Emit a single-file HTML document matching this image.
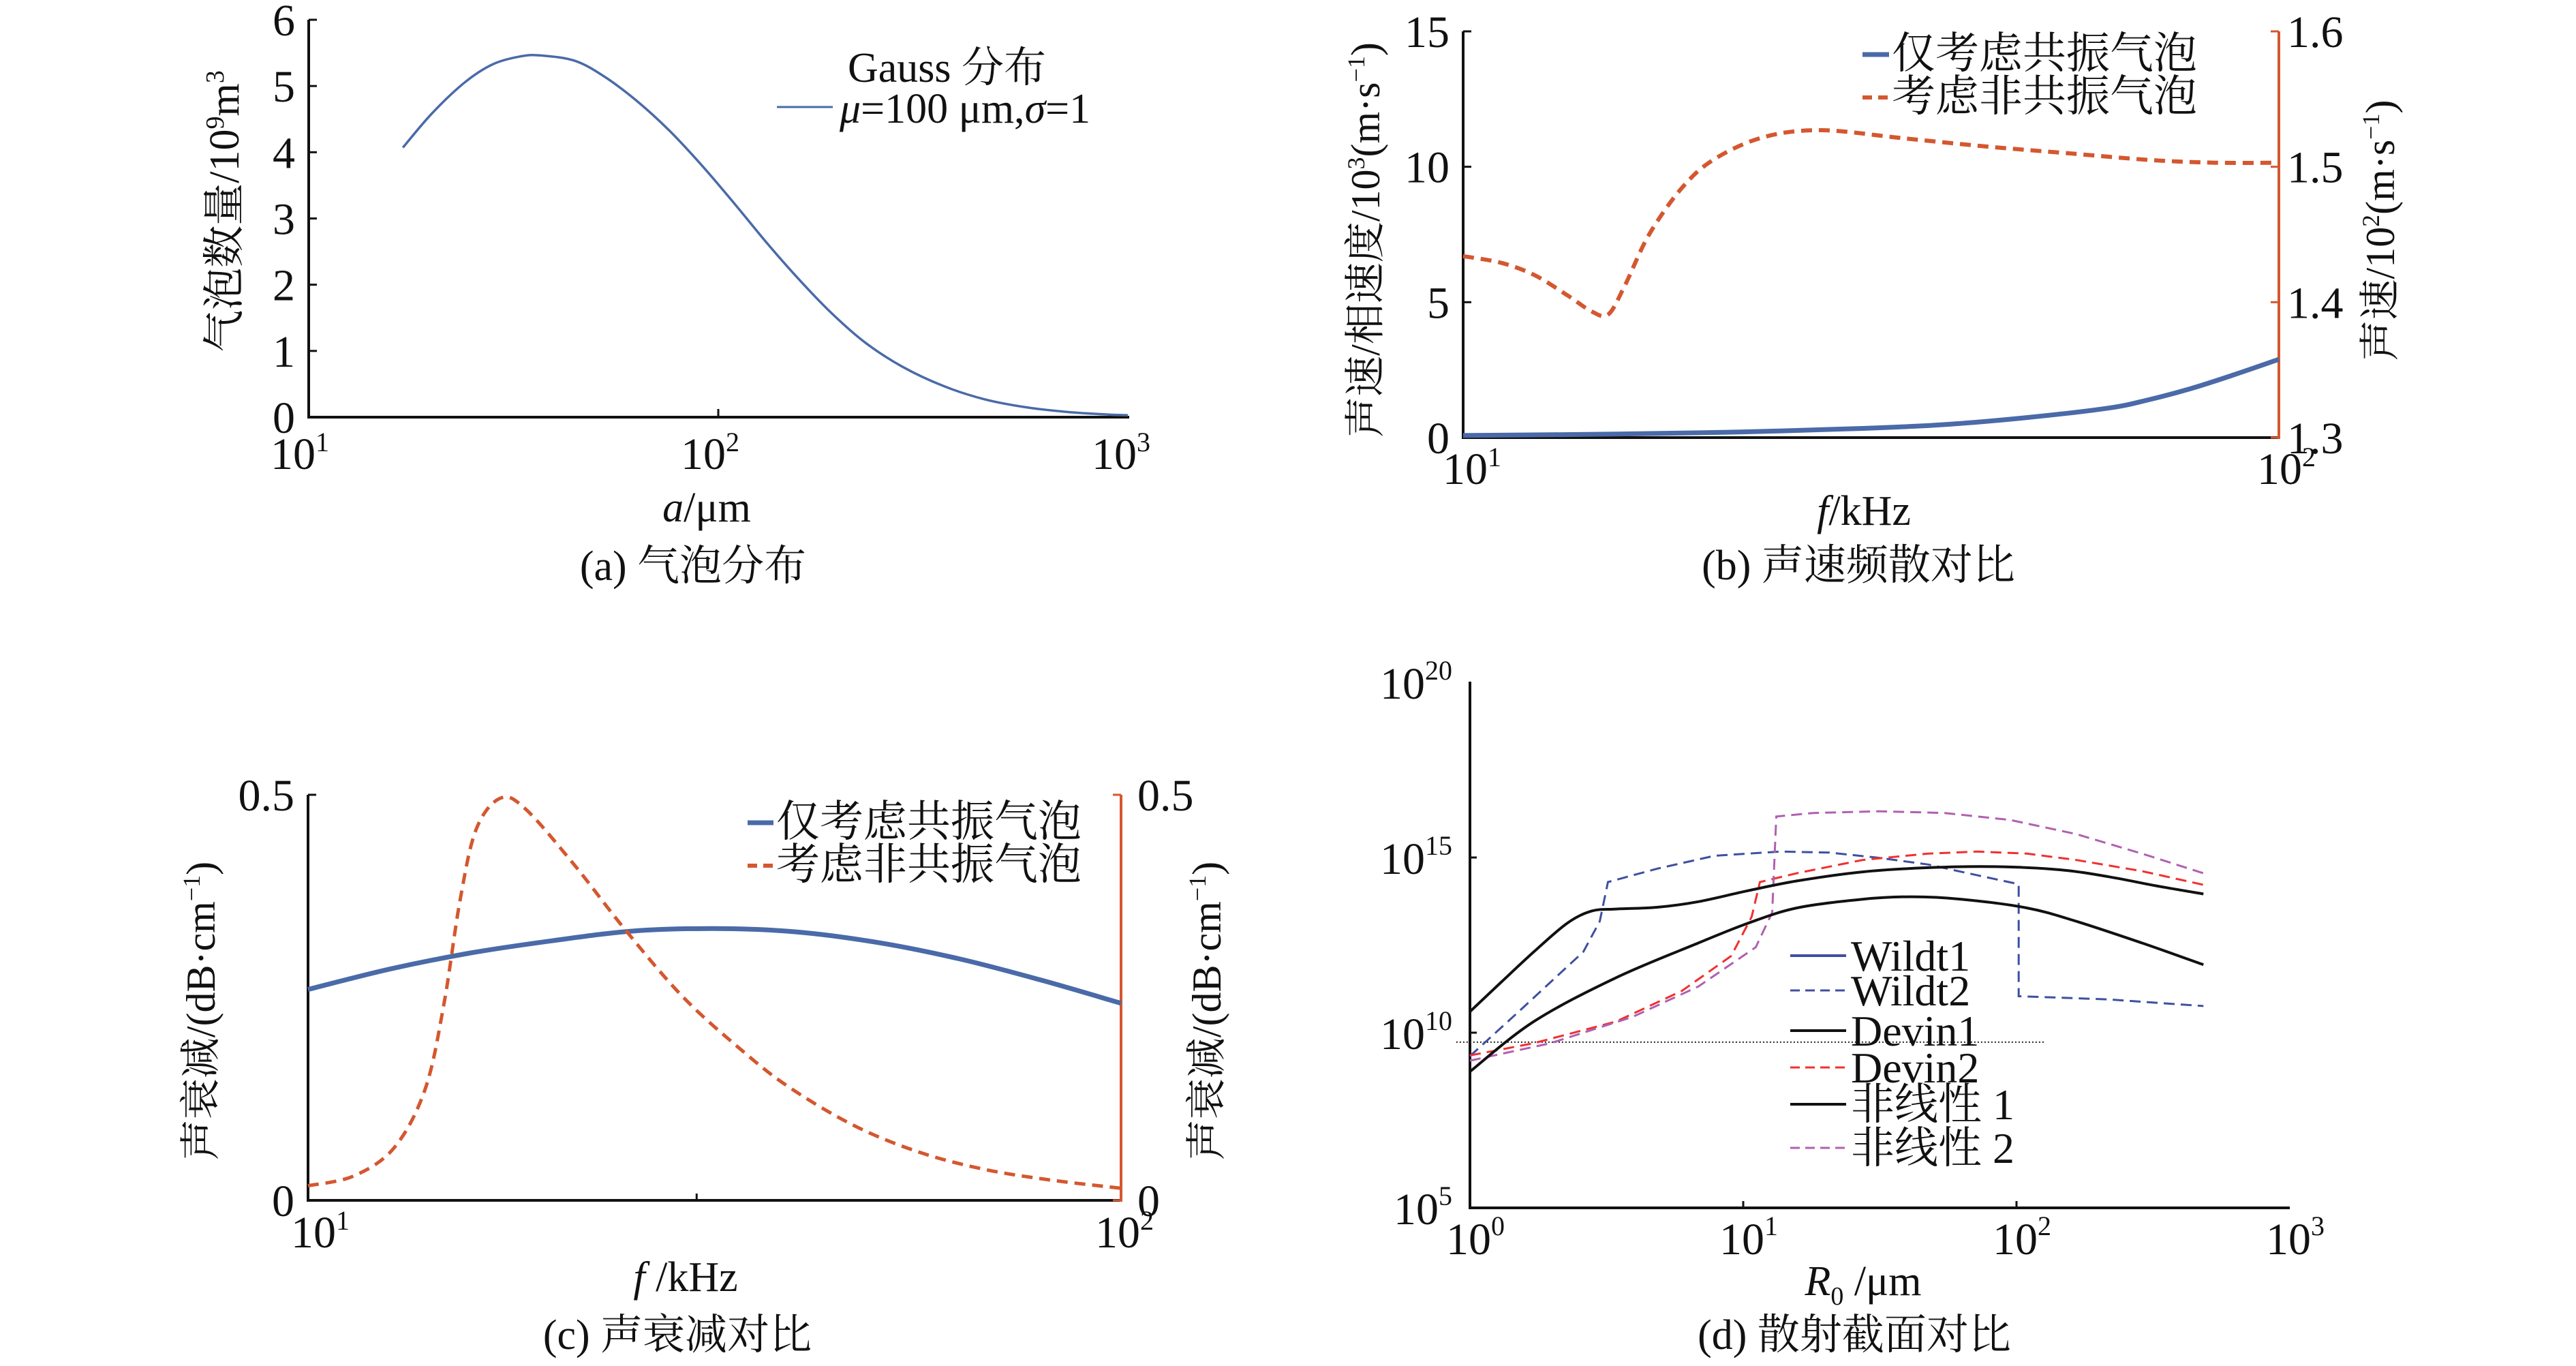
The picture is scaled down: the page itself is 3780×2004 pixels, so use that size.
<!DOCTYPE html>
<html><head><meta charset="utf-8">
<style>
html,body{margin:0;padding:0;background:#fff;}
svg{display:block;}
text{font-family:"Liberation Serif","Noto Serif CJK SC","Noto Sans CJK SC",serif;fill:#111;}
</style></head>
<body>
<svg id="fig" width="3780" height="2004" viewBox="0 0 3780 2004" xmlns="http://www.w3.org/2000/svg">
<rect width="3780" height="2004" fill="#fff"/>
<!-- Panel a -->
<g>
 <line x1="453" y1="29" x2="453" y2="612" stroke="#111" stroke-width="4"/>
 <line x1="451" y1="612" x2="1657" y2="612" stroke="#111" stroke-width="4"/>
 <g id="aTicks"></g>
 <text x="440" y="688" font-size="66" text-anchor="middle">10<tspan dy="-26" font-size="40">1</tspan></text>
 <text x="1042" y="688" font-size="66" text-anchor="middle">10<tspan dy="-26" font-size="40">2</tspan></text>
 <text x="1645" y="688" font-size="66" text-anchor="middle">10<tspan dy="-26" font-size="40">3</tspan></text>
 <text x="1037" y="765" font-size="62" text-anchor="middle"><tspan font-style="italic">a</tspan>/μm</text>
 <text transform="translate(350,310) rotate(-90)" font-size="62" text-anchor="middle">气泡数量/10<tspan dy="-22" font-size="38">9</tspan><tspan dy="22">m</tspan><tspan dy="-22" font-size="38">3</tspan></text>
 <text x="1017" y="851" font-size="62" text-anchor="middle">(a) 气泡分布</text>
 <text x="1244" y="120" font-size="62">Gauss 分布</text>
 <line x1="1140" y1="157" x2="1222" y2="157" stroke="#4a6aa8" stroke-width="3"/>
 <text x="1232" y="180" font-size="62"><tspan font-style="italic">μ</tspan>=100 μm,<tspan font-style="italic">σ</tspan>=1</text>
 <g id="aPlot"></g>
</g>
<!-- Panel b -->
<g>
 <line x1="2147" y1="46" x2="2147" y2="642" stroke="#111" stroke-width="4"/>
 <line x1="2145" y1="642" x2="3344" y2="642" stroke="#111" stroke-width="4"/>
 <line x1="3344" y1="46" x2="3344" y2="644" stroke="#d4572f" stroke-width="4"/>
 <g id="bTicks"></g>
 <text x="2160" y="710" font-size="66" text-anchor="middle">10<tspan dy="-26" font-size="40">1</tspan></text>
 <text x="3355" y="710" font-size="66" text-anchor="middle">10<tspan dy="-26" font-size="40">2</tspan></text>
 <text x="2735" y="770" font-size="62" text-anchor="middle"><tspan font-style="italic">f</tspan>/kHz</text>
 <text transform="translate(2024,352) rotate(-90)" font-size="60" text-anchor="middle">声速/相速度/10<tspan dy="-22" font-size="36">3</tspan><tspan dy="22">(m·s</tspan><tspan dy="-22" font-size="36">−1</tspan><tspan dy="22">)</tspan></text>
 <text transform="translate(3513,338) rotate(-90)" font-size="60" text-anchor="middle">声速/10<tspan dy="-22" font-size="36">2</tspan><tspan dy="22">(m·s</tspan><tspan dy="-22" font-size="36">−1</tspan><tspan dy="22">)</tspan></text>
 <text x="2727" y="850" font-size="62" text-anchor="middle">(b) 声速频散对比</text>
 <line x1="2733" y1="80" x2="2772" y2="80" stroke="#4a6aa8" stroke-width="7"/>
 <text x="2776" y="100" font-size="64">仅考虑共振气泡</text>
 <line x1="2733" y1="143" x2="2772" y2="143" stroke="#d4572f" stroke-width="6" stroke-dasharray="14,9"/>
 <text x="2776" y="163" font-size="64">考虑非共振气泡</text>
 <g id="bPlot"></g>
</g>
<!-- Panel c -->
<g>
 <line x1="452" y1="1166" x2="452" y2="1761" stroke="#111" stroke-width="4"/>
 <line x1="450" y1="1761" x2="1645" y2="1761" stroke="#111" stroke-width="4"/>
 <line x1="1645" y1="1166" x2="1645" y2="1763" stroke="#d4572f" stroke-width="4"/>
 <g id="cTicks"></g>
 <text x="470" y="1830" font-size="66" text-anchor="middle">10<tspan dy="-26" font-size="40">1</tspan></text>
 <text x="1650" y="1830" font-size="66" text-anchor="middle">10<tspan dy="-26" font-size="40">2</tspan></text>
 <text x="1006" y="1894" font-size="62" text-anchor="middle"><tspan font-style="italic">f</tspan> /kHz</text>
 <text transform="translate(315,1483) rotate(-90)" font-size="60" text-anchor="middle">声衰减/(dB·cm<tspan dy="-22" font-size="36">−1</tspan><tspan dy="22">)</tspan></text>
 <text transform="translate(1791,1483) rotate(-90)" font-size="60" text-anchor="middle">声衰减/(dB·cm<tspan dy="-22" font-size="36">−1</tspan><tspan dy="22">)</tspan></text>
 <text x="994" y="1979" font-size="62" text-anchor="middle">(c) 声衰减对比</text>
 <line x1="1097" y1="1207" x2="1135" y2="1207" stroke="#4a6aa8" stroke-width="7"/>
 <text x="1139" y="1227" font-size="64">仅考虑共振气泡</text>
 <line x1="1097" y1="1270" x2="1135" y2="1270" stroke="#d4572f" stroke-width="6" stroke-dasharray="14,9"/>
 <text x="1139" y="1290" font-size="64">考虑非共振气泡</text>
 <g id="cPlot"></g>
</g>
<!-- Panel d -->
<g>
 <line x1="2157" y1="1000" x2="2157" y2="1772" stroke="#111" stroke-width="4"/>
 <line x1="2155" y1="1772" x2="3360" y2="1772" stroke="#111" stroke-width="4"/>
 <g id="dTicks"></g>
 <text x="2734" y="1900" font-size="62" text-anchor="middle"><tspan font-style="italic">R</tspan><tspan dy="14" font-size="38">0</tspan><tspan dy="-14"> /μm</tspan></text>
 <text x="2721" y="1979" font-size="62" text-anchor="middle">(d) 散射截面对比</text>
 <g id="dPlot"></g>
 <g id="dLegend"></g>
</g>
</svg>
<script>
// ---------- Panel a data ----------
const aLogA = [1.23,1.30,1.38,1.45,1.52,1.57,1.65,1.72,1.80,1.88,1.96,2.04,2.12,2.20,2.28,2.36,2.45,2.55,2.65,2.75,2.85,2.95,3.0];
const aCount = [4.07,4.58,5.05,5.33,5.45,5.46,5.38,5.15,4.78,4.33,3.80,3.22,2.62,2.06,1.55,1.12,0.76,0.47,0.27,0.15,0.08,0.04,0.03];
const aYTicks = [0,1,2,3,4,5,6];
// ---------- Panel b data ----------
const bBlueLogF = [1,1.188,1.339,1.49,1.59,1.691,1.791,1.842,1.892,1.942,2];
const bBlueVal = [0.08,0.13,0.21,0.34,0.48,0.74,1.09,1.41,1.81,2.29,2.89];
const bRedLogF = [1,1.047,1.0875,1.128,1.158,1.178,1.198,1.228,1.269,1.309,1.369,1.44,1.54,1.641,1.741,1.842,1.922,2];
const bRedVal = [1.434,1.429,1.420,1.405,1.393,1.391,1.412,1.450,1.485,1.506,1.522,1.527,1.521,1.515,1.510,1.505,1.503,1.503];
const bLeftTicks = [0,5,10,15];
const bRightTicks = [1.3,1.4,1.5,1.6];
// ---------- Panel c data ----------
const cBlueLogF = [1,1.1,1.2,1.3,1.4,1.5,1.6,1.7,1.8,1.9,2];
const cBlueVal = [0.26,0.285,0.305,0.32,0.332,0.335,0.331,0.318,0.298,0.272,0.243];
const cRedLogF = [1,1.056,1.106,1.144,1.167,1.187,1.207,1.237,1.268,1.328,1.389,1.46,1.53,1.591,1.672,1.753,1.833,1.914,2];
const cRedVal = [0.018,0.030,0.065,0.137,0.241,0.370,0.458,0.496,0.482,0.413,0.335,0.252,0.188,0.140,0.092,0.059,0.038,0.025,0.015];
const cTicks = [0,0.5];
// ---------- Panel d data (log10 R0, log10 sigma) ----------
const dDevin1LogR = [0,0.114,0.234,0.355,0.445,0.535,0.685,0.836,1.016,1.196,1.437,1.677,1.918,2.158,2.338,2.519,2.684];
const dDevin1Exp = [10.60,11.44,12.31,13.12,13.47,13.53,13.58,13.74,14.05,14.33,14.59,14.71,14.74,14.65,14.45,14.18,13.96];
const dNl1LogR = [0,0.234,0.535,0.836,1.016,1.196,1.437,1.617,1.797,2.038,2.218,2.459,2.684];
const dNl1Exp = [8.89,10.32,11.57,12.56,13.12,13.56,13.81,13.88,13.81,13.56,13.18,12.56,11.94];
const dWildt2LogR = [0,0.174,0.415,0.475,0.505,0.685,0.896,1.136,1.316,1.497,1.677,1.858,2.008,2.008,2.338,2.684];
const dWildt2Exp = [9.33,10.57,12.31,13.18,14.30,14.68,15.05,15.17,15.14,14.99,14.80,14.49,14.24,11.04,10.95,10.76];
const dDevin2LogR = [0,0.234,0.535,0.775,0.956,1.031,1.061,1.196,1.437,1.677,1.858,2.038,2.218,2.459,2.684];
const dDevin2Exp = [9.35,9.70,10.32,11.19,12.19,13.31,14.30,14.55,14.93,15.11,15.17,15.11,14.93,14.61,14.22];
const dNl2LogR = [0,0.295,0.595,0.836,1.046,1.106,1.121,1.256,1.497,1.737,1.978,2.218,2.459,2.684];
const dNl2Exp = [9.20,9.70,10.45,11.32,12.44,13.43,16.17,16.27,16.32,16.27,16.07,15.67,15.11,14.55];
const dRefLogR = [-0.05,2.1];
const dRefExp = [9.73,9.73];
const dYTickExp = [5,10,15,20];
const dXTickExp = [0,1,2,3];
const dLegendLabels = ["Wildt1","Wildt2","Devin1","Devin2","非线性 1","非线性 2"];

const NS = "http://www.w3.org/2000/svg";
function mk(parent, tag, attrs){const e=document.createElementNS(NS,tag);for(const k in attrs)e.setAttribute(k,attrs[k]);parent.appendChild(e);return e;}
function pathD(xs,ys,fx,fy){return xs.map((v,i)=>(i?'L':'M')+fx(v).toFixed(1)+','+fy(ys[i]).toFixed(1)).join(' ');}
function smoothD(xs,ys,fx,fy){
 const p=xs.map((v,i)=>[fx(v),fy(ys[i])]);
 let d='M'+p[0][0].toFixed(1)+','+p[0][1].toFixed(1);
 for(let i=0;i<p.length-1;i++){
  const p0=p[i-1]||p[i],p1=p[i],p2=p[i+1],p3=p[i+2]||p[i+1];
  const c1x=p1[0]+(p2[0]-p0[0])/6,c1y=p1[1]+(p2[1]-p0[1])/6;
  const c2x=p2[0]-(p3[0]-p1[0])/6,c2y=p2[1]-(p3[1]-p1[1])/6;
  d+=' C'+c1x.toFixed(1)+','+c1y.toFixed(1)+' '+c2x.toFixed(1)+','+c2y.toFixed(1)+' '+p2[0].toFixed(1)+','+p2[1].toFixed(1);
 }
 return d;
}

// axis functions
const xA=l=>453+(l-1)*601, yA=v=>612-v*(583/6);
const xB=l=>2147+(l-1)*1197, yBL=v=>642-v*(596/15), yBR=v=>642-(v-1.3)/0.3*596;
const xC=l=>452+(l-1)*1193, yC=v=>1761-v/0.5*595;
const xD=l=>2157+l*401, yD=e=>1772-(e-5)*51.4;

// Panel a
const aT=document.getElementById('aTicks');
aYTicks.forEach(v=>{
 let t=mk(aT,'line',{x1:453,y1:yA(v),x2:465,y2:yA(v),stroke:'#111','stroke-width':3});
 
 
 let s=mk(aT,'text',{x:433,y:yA(v)+23,'font-size':66,'text-anchor':'end'});s.textContent=v;
 
 
});
let at=mk(aT,'line',{x1:xA(2),y1:612,x2:xA(2),y2:600,stroke:'#111','stroke-width':3});


let ap=mk(document.getElementById('aPlot'),'path',{d:smoothD(aLogA,aCount,xA,yA),fill:'none',stroke:'#4a6aa8','stroke-width':3.5});



// Panel b
const bT=document.getElementById('bTicks');
bLeftTicks.forEach(v=>{
 let t=mk(bT,'line',{x1:2147,y1:yBL(v),x2:2159,y2:yBL(v),stroke:'#111','stroke-width':3});
 
 
 let s=mk(bT,'text',{x:2127,y:yBL(v)+23,'font-size':66,'text-anchor':'end'});s.textContent=v;
 
 
});
bRightTicks.forEach(v=>{
 let t=mk(bT,'line',{x1:3332,y1:yBR(v),x2:3344,y2:yBR(v),stroke:'#d4572f','stroke-width':3});
 
 
 let s=mk(bT,'text',{x:3356,y:yBR(v)+23,'font-size':66});s.textContent=v.toFixed(1);
 
 
});
const bP=document.getElementById('bPlot');
let bb=mk(bP,'path',{d:smoothD(bBlueLogF,bBlueVal,xB,yBL),fill:'none',stroke:'#4a6aa8','stroke-width':7});


let br=mk(bP,'path',{d:smoothD(bRedLogF,bRedVal,xB,yBR),fill:'none',stroke:'#d4572f','stroke-width':6,'stroke-dasharray':'16,10'});



// Panel c
const cT=document.getElementById('cTicks');
cTicks.forEach(v=>{
 let t=mk(cT,'line',{x1:452,y1:yC(v),x2:464,y2:yC(v),stroke:'#111','stroke-width':3});
 
 
 let s=mk(cT,'text',{x:432,y:yC(v)+23,'font-size':66,'text-anchor':'end'});s.textContent=v;
 
 
 let t2=mk(cT,'line',{x1:1633,y1:yC(v),x2:1645,y2:yC(v),stroke:'#d4572f','stroke-width':3});
 
 
 let s2=mk(cT,'text',{x:1669,y:yC(v)+23,'font-size':66});s2.textContent=v;
 
 
});
let ct=mk(cT,'line',{x1:xC(1.478),y1:1761,x2:xC(1.478),y2:1751,stroke:'#111','stroke-width':3});


const cP=document.getElementById('cPlot');
let cb=mk(cP,'path',{d:smoothD(cBlueLogF,cBlueVal,xC,yC),fill:'none',stroke:'#4a6aa8','stroke-width':7});


let cr=mk(cP,'path',{d:smoothD(cRedLogF,cRedVal,xC,yC),fill:'none',stroke:'#d4572f','stroke-width':5,'stroke-dasharray':'16,10'});



// Panel d
const dT=document.getElementById('dTicks');
dYTickExp.forEach(e=>{
 if(e>5&&e<20){let t=mk(dT,'line',{x1:2157,y1:yD(e),x2:2167,y2:yD(e),stroke:'#111','stroke-width':3});
 
 }
 let s=mk(dT,'text',{x:2131,y:yD(e)+24,'font-size':66,'text-anchor':'end'});
 
 
 s.innerHTML='10<tspan dy="-28" font-size="40">'+e+'</tspan>';
});
dXTickExp.forEach(e=>{
 if(e>0&&e<3){let t=mk(dT,'line',{x1:xD(e),y1:1772,x2:xD(e),y2:1762,stroke:'#111','stroke-width':3});
 
 }
 let s=mk(dT,'text',{x:xD(e)+8,y:1840,'font-size':66,'text-anchor':'middle'});
 
 
 s.innerHTML='10<tspan dy="-28" font-size="40">'+e+'</tspan>';
});
const dP=document.getElementById('dPlot');
let dr=mk(dP,'path',{d:pathD(dRefLogR,dRefExp,xD,yD),fill:'none',stroke:'#222','stroke-width':2,'stroke-dasharray':'2,3'});


let d1=mk(dP,'path',{d:pathD(dWildt2LogR,dWildt2Exp,xD,yD),fill:'none',stroke:'#3f4fa0','stroke-width':3,'stroke-dasharray':'16,9'});


let d2=mk(dP,'path',{d:pathD(dDevin2LogR,dDevin2Exp,xD,yD),fill:'none',stroke:'#f03030','stroke-width':3,'stroke-dasharray':'16,9'});


let d3=mk(dP,'path',{d:pathD(dNl2LogR,dNl2Exp,xD,yD),fill:'none',stroke:'#b060b0','stroke-width':3,'stroke-dasharray':'16,9'});


let d4=mk(dP,'path',{d:smoothD(dDevin1LogR,dDevin1Exp,xD,yD),fill:'none',stroke:'#111','stroke-width':4});


let d5=mk(dP,'path',{d:smoothD(dNl1LogR,dNl1Exp,xD,yD),fill:'none',stroke:'#111','stroke-width':4});



const dL=document.getElementById('dLegend');
const legY=[1402,1453,1512,1566,1620,1684];
const legStyle=[['#3f4fa0',4,''],['#3f4fa0',3,'14,8'],['#111',4,''],['#f03030',3,'14,8'],['#111',4,''],['#b060b0',3,'14,8']];
dLegendLabels.forEach((lab,i)=>{
 let l=mk(dL,'line',{x1:2627,y1:legY[i],x2:2709,y2:legY[i],stroke:legStyle[i][0],'stroke-width':legStyle[i][1],'stroke-dasharray':legStyle[i][2]||'none'});
 
 
 let s=mk(dL,'text',{x:2716,y:legY[i]+22,'font-size':64});s.textContent=lab;
 
 
});
</script>
</body></html>
